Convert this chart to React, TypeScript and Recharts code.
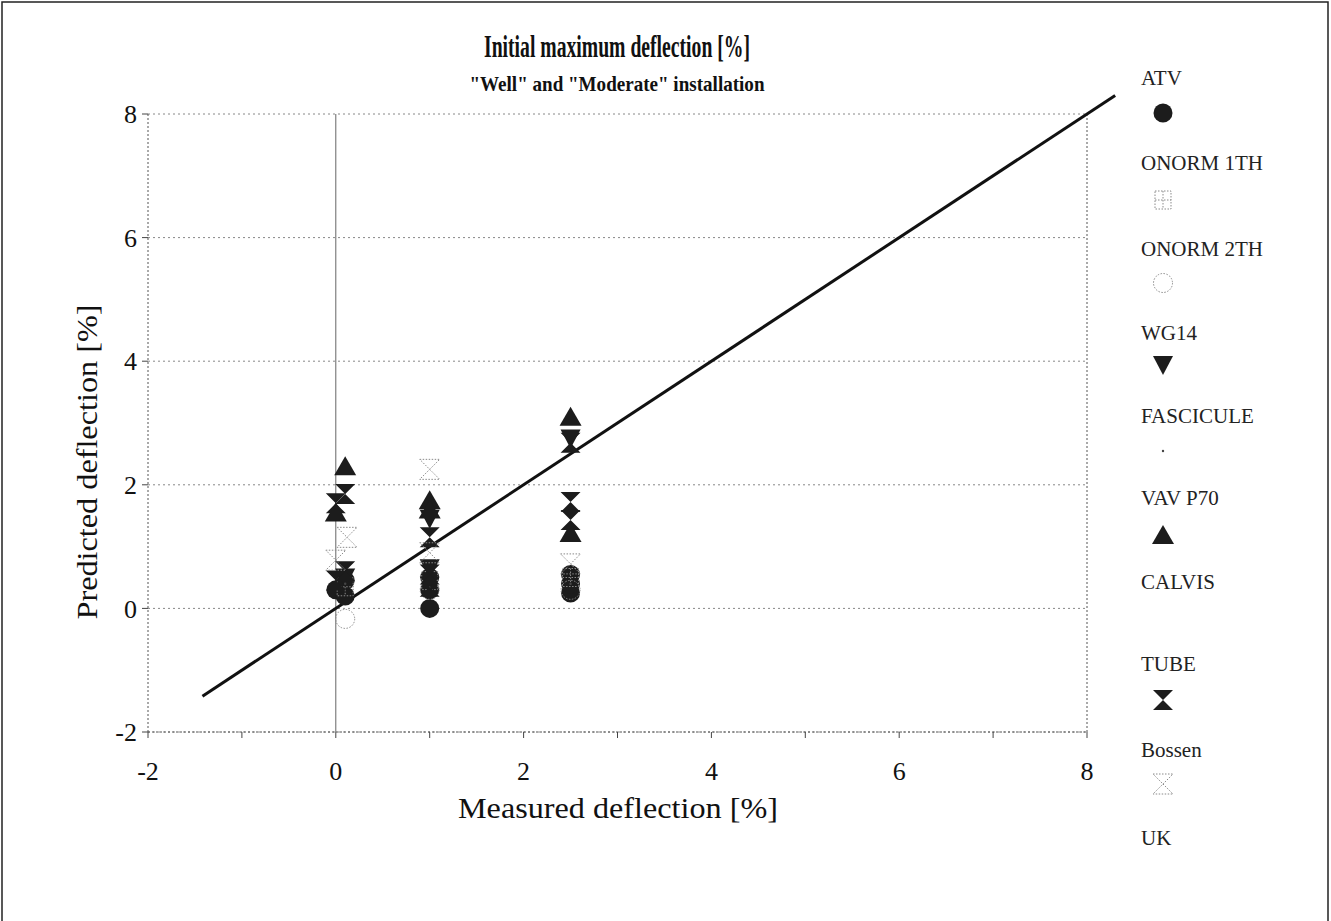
import React from 'react';
import { ScatterChart, Scatter, XAxis, YAxis, CartesianGrid, ReferenceLine } from 'recharts';

// ---- data ----
const xTicks = [-2, -1, 0, 1, 2, 3, 4, 5, 6, 7, 8];
const yTicks = [-2, 0, 2, 4, 6, 8];
const diagonal = [{ x: -1.42, y: -1.42 }, { x: 8.3, y: 8.3 }];

const atv = [
  { x: 0.0, y: 0.3 }, { x: 0.1, y: 0.2 }, { x: 0.1, y: 0.45 }, { x: 1.0, y: 0.0 }, { x: 1.0, y: 0.5 },
  { x: 1.0, y: 0.3 }, { x: 2.5, y: 0.25 }, { x: 2.5, y: 0.4 }, { x: 2.5, y: 0.55 },
];
const onorm1 = [{ x: 0.1, y: 0.35 }, { x: 1.0, y: 0.45 }, { x: 2.5, y: 0.5 }];
const onorm2 = [{ x: 0.1, y: -0.17 }, { x: 1.0, y: 0.3 }, { x: 2.5, y: 0.3 }];
const wg14 = [{ x: 0.1, y: 0.5 }, { x: 1.0, y: 0.65 }, { x: 1.0, y: 1.45 }, { x: 2.5, y: 2.75 }];
const fascicule = [{ x: 0.1, y: 0.4 }, { x: 1.0, y: 0.4 }, { x: 2.5, y: 0.4 }];
const vav = [
  { x: 0.1, y: 2.3 }, { x: 0.0, y: 1.55 }, { x: 1.0, y: 1.75 }, { x: 1.0, y: 1.6 },
  { x: 2.5, y: 3.1 }, { x: 2.5, y: 1.22 },
];
const calvis: { x: number; y: number }[] = [];
const tube = [
  { x: 0.1, y: 1.85 }, { x: 0.0, y: 1.7 }, { x: 0.1, y: 0.6 }, { x: 0.0, y: 0.45 }, { x: 1.0, y: 1.15 },
  { x: 1.0, y: 0.35 }, { x: 1.0, y: 0.55 }, { x: 2.5, y: 2.68 }, { x: 2.5, y: 1.72 }, { x: 2.5, y: 1.43 },
];
const bossen = [
  { x: 0.12, y: 1.15 }, { x: 0.0, y: 0.78 }, { x: 1.0, y: 2.25 }, { x: 1.0, y: 0.9 },
  { x: 2.5, y: 0.72 },
];
const uk: { x: number; y: number }[] = [];

const seriesNames = ['ATV', 'ONORM 1TH', 'ONORM 2TH', 'WG14', 'FASCICULE', 'VAV P70', 'CALVIS', 'TUBE', 'Bossen', 'UK'];
const seriesData = [atv, onorm1, onorm2, wg14, fascicule, vav, calvis, tube, bossen, uk];
const seriesKinds = ['circle', 'square', 'ocircle', 'down', 'dot', 'up', 'none', 'hour', 'ohour', 'none'];

// ---- style ----
const FONT = '"Liberation Serif", "DejaVu Serif", serif';
const INK = '#1c1c1c';
const GREY = '#8a8a8a';

function marker(kind: string, cx: number, cy: number, key?: string) {
  switch (kind) {
    case 'circle':
      return <circle key={key} cx={cx} cy={cy} r={9.5} fill={INK} />;
    case 'square':
      return (
        <g key={key} stroke={GREY} strokeDasharray="1.5 1.5" fill="none" strokeWidth={1}>
          <rect x={cx - 8} y={cy - 9} width={16} height={18} />
          <line x1={cx} y1={cy - 9} x2={cx} y2={cy + 9} />
          <line x1={cx - 8} y1={cy} x2={cx + 8} y2={cy} />
        </g>
      );
    case 'ocircle':
      return <circle key={key} cx={cx} cy={cy} r={9.5} fill="none" stroke={GREY} strokeDasharray="1.5 1.5" />;
    case 'down':
      return <polygon key={key} points={`${cx - 10},${cy - 9} ${cx + 10},${cy - 9} ${cx},${cy + 10}`} fill={INK} />;
    case 'dot':
      return <circle key={key} cx={cx} cy={cy} r={1.2} fill="#444" />;
    case 'up':
      return <polygon key={key} points={`${cx},${cy - 10} ${cx + 11},${cy + 9} ${cx - 11},${cy + 9}`} fill={INK} />;
    case 'hour':
      return (
        <polygon
          key={key}
          points={`${cx - 10},${cy - 10} ${cx + 10},${cy - 10} ${cx},${cy} ${cx + 10},${cy + 10} ${cx - 10},${cy + 10} ${cx},${cy}`}
          fill={INK}
        />
      );
    case 'ohour':
      return (
        <path
          key={key}
          d={`M${cx - 10},${cy - 10} L${cx + 10},${cy - 10} L${cx - 10},${cy + 10} L${cx + 10},${cy + 10} Z`}
          fill="none"
          stroke={GREY}
          strokeDasharray="1.5 1.5"
        />
      );
    default:
      return <g key={key} />;
  }
}

const XTick = (p: any) => {
  const v = p.payload.value;
  if (v % 2 !== 0) return <g />;
  return (
    <text x={p.x} y={p.y - 2} dy="0.75em" textAnchor="middle" fontFamily={FONT} fontSize={26} fill="#111">
      {String(v)}
    </text>
  );
};
const YTick = (p: any) => (
  <text x={p.x} y={p.y} dy="0.35em" textAnchor="end" fontFamily={FONT} fontSize={26} fill="#111">
    {String(p.payload.value)}
  </text>
);

const legendLabelY = [78, 163, 249, 333, 416, 498, 582, 664, 750, 838];
const legendMarkerY = [113, 200, 283, 365, 451, 535, 617, 700, 784, 872];

export default function App() {
  return (
    <div style={{ position: 'absolute', left: 0, top: 0, width: 1331, height: 921, background: '#fff' }}>
      <ScatterChart width={1331} height={921} margin={{ top: 114, right: 244, bottom: 139, left: 98 }}>
        <CartesianGrid horizontal vertical={false} stroke="#888" strokeDasharray="2 3" />
        <XAxis
          type="number"
          dataKey="x"
          domain={[-2, 8]}
          ticks={xTicks}
          interval={0}
          height={50}
          tickSize={6}
          tickMargin={24}
          axisLine={{ stroke: '#555', strokeDasharray: '2 2' }}
          tickLine={{ stroke: '#444' }}
          tick={XTick}
        />
        <YAxis
          type="number"
          dataKey="y"
          domain={[-2, 8]}
          ticks={yTicks}
          interval={0}
          width={50}
          tickSize={6}
          tickMargin={5}
          axisLine={{ stroke: '#555', strokeDasharray: '2 2' }}
          tickLine={{ stroke: '#444' }}
          tick={YTick}
        />
        <ReferenceLine x={0} stroke="#666" strokeWidth={1} />
        <ReferenceLine x={8} stroke="#555" strokeDasharray="2 2" />
        {seriesNames.map((name, i) => (
          <Scatter
            key={name}
            name={name}
            data={seriesData[i]}
            isAnimationActive={false}
            shape={(p: any) => marker(seriesKinds[i], p.cx, p.cy)}
          />
        ))}
        <ReferenceLine
          segment={diagonal}
          ifOverflow="visible"
          stroke="#111"
          strokeWidth={3}
        />
      </ScatterChart>
      <svg
        width={1331}
        height={921}
        style={{ position: 'absolute', left: 0, top: 0, pointerEvents: 'none' }}
      >
        <path d="M2,921 L2,2 L1328,2 L1328,921" fill="none" stroke="#222" strokeWidth={1.5} />
        <text x={617} y={57} textAnchor="middle" fontFamily={FONT} fontWeight="bold" fontSize={31}
          textLength={266} lengthAdjust="spacingAndGlyphs" fill="#111">
          Initial maximum deflection [%]
        </text>
        <text x={617} y={91} textAnchor="middle" fontFamily={FONT} fontWeight="bold" fontSize={21}
          textLength={295} lengthAdjust="spacingAndGlyphs" fill="#111">
          "Well" and "Moderate"  installation
        </text>
        <text x={618} y={818} textAnchor="middle" fontFamily={FONT} fontSize={29}
          textLength={320} lengthAdjust="spacingAndGlyphs" fill="#111">
          Measured deflection [%]
        </text>
        <text transform="translate(97,462) rotate(-90)" textAnchor="middle" fontFamily={FONT} fontSize={29}
          textLength={315} lengthAdjust="spacingAndGlyphs" fill="#111">
          Predicted deflection [%]
        </text>
        {seriesNames.map((name, i) => (
          <g key={name}>
            <text x={1141} y={legendLabelY[i] + 7} fontFamily={FONT} fontSize={21} fill="#222">
              {name}
            </text>
            {marker(seriesKinds[i], 1163, legendMarkerY[i])}
          </g>
        ))}
      </svg>
    </div>
  );
}
